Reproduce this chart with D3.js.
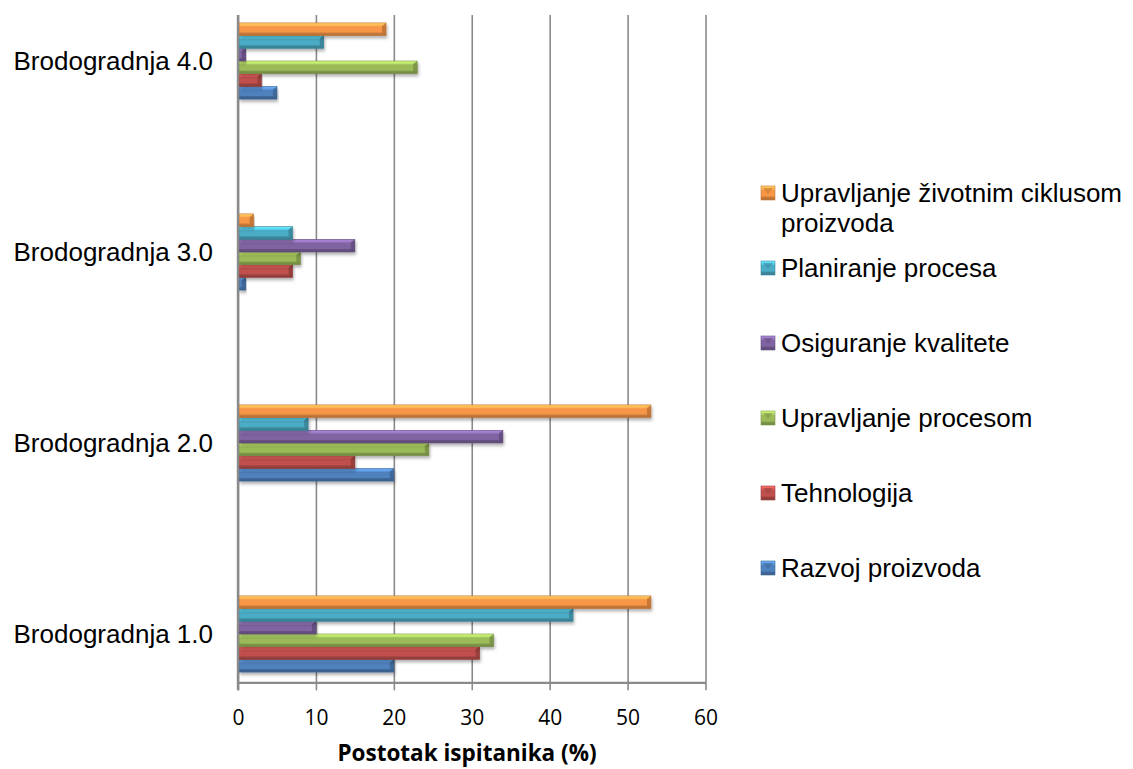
<!DOCTYPE html>
<html>
<head>
<meta charset="utf-8">
<script src="https://cdn.jsdelivr.net/npm/d3@7"></script>
<style>
  body { margin: 0; background: #fff; }
  svg { display: block; }
</style>
</head>
<body>
<div id="chart"></div>
<script>
// categories (bottom to top) and series values
const categories = ["Brodogradnja 1.0", "Brodogradnja 2.0", "Brodogradnja 3.0", "Brodogradnja 4.0"];
const seriesNames = ["Razvoj proizvoda", "Tehnologija", "Upravljanje procesom",
    "Osiguranje kvalitete", "Planiranje procesa", "Upravljanje životnim ciklusom proizvoda"];
const razvoj = [20, 20, 1, 5];
const tehnologija = [31, 15, 7, 3];
const upravljanjeProcesom = [32.8, 24.5, 8, 23];
const osiguranje = [10, 34, 15, 1];
const planiranje = [43, 9, 7, 11];
const zivotniCiklus = [53, 53, 2, 19];
const xTicks = [0, 10, 20, 30, 40, 50, 60];

const seriesValues = [razvoj, tehnologija, upravljanjeProcesom, osiguranje, planiranje, zivotniCiklus];
const colors = ["#4F81BD", "#C0504D", "#9BBB59", "#8064A2", "#4BACC6", "#F79646"];

const W = 1133, H = 769;
const plot = {left: 238, right: 705.5, top: 15, bottom: 682.3};

const svg = d3.select("#chart").append("svg")
    .attr("width", W)
    .attr("height", H);

const defs = svg.append("defs");

// bevel-like gradients
colors.forEach((c, i) => {
    let base = d3.color(c);
    let g = defs.append("linearGradient")
        .attr("id", "grad" + i)
        .attr("x1", 0).attr("y1", 0).attr("x2", 0).attr("y2", 1);
    g.append("stop").attr("offset", "0%").attr("stop-color", d3.color(c).brighter(0.9));
    g.append("stop").attr("offset", "22%").attr("stop-color", d3.color(c).brighter(0.5));
    g.append("stop").attr("offset", "30%").attr("stop-color", base);
    g.append("stop").attr("offset", "72%").attr("stop-color", base);
    g.append("stop").attr("offset", "80%").attr("stop-color", d3.color(c).darker(0.6));
    g.append("stop").attr("offset", "100%").attr("stop-color", d3.color(c).darker(0.9));
});

let shadow = defs.append("filter").attr("id", "shadow")
    .attr("x", "-5%").attr("y", "-30%").attr("width", "110%").attr("height", "180%");
shadow.append("feDropShadow")
    .attr("dx", 1).attr("dy", 2.5).attr("stdDeviation", 1.6)
    .attr("flood-color", "#000").attr("flood-opacity", 0.3);

// scales
const x = d3.scaleLinear().domain([0, 60]).range([plot.left, plot.right]);
const y = d3.scalePoint().domain(categories).range([634, 61]);
const barH = 12.7;
const inner = d3.scaleBand()
    .domain(d3.range(seriesNames.length).reverse())
    .range([-3 * barH, 3 * barH]);

// gridlines
svg.append("g")
    .attr("class", "grid")
    .attr("transform", `translate(0,${plot.bottom})`)
    .call(d3.axisBottom(x).tickValues(xTicks).tickSize(-(plot.bottom - plot.top)).tickFormat(""))
    .call(g => g.select(".domain").remove())
    .call(g => g.selectAll("line").attr("stroke", "#8a8a8a").attr("stroke-width", 1.6));

// bars
const data = [];
categories.forEach((cat, ci) => {
    seriesValues.forEach((vals, si) => {
        data.push({cat: cat, s: si, v: vals[ci]});
    });
});

let bars = svg.append("g").selectAll("g.bar")
    .data(data)
    .enter().append("g")
    .attr("class", "bar")
    .attr("filter", "url(#shadow)");

bars.append("rect")
    .attr("x", x(0) + 1)
    .attr("y", d => y(d.cat) + inner(d.s))
    .attr("width", d => Math.max(0, x(d.v) - x(0) - 1))
    .attr("height", inner.bandwidth())
    .attr("fill", d => `url(#grad${d.s})`)
    .attr("stroke", d => d3.color(colors[d.s]).darker(0.7))
    .attr("stroke-width", 0.6);

// right end bevel
bars.append("path")
    .attr("d", d => {
        let x1 = x(d.v), y0 = y(d.cat) + inner(d.s), h = inner.bandwidth();
        let b = Math.min(4, (x1 - x(0)) / 2);
        return `M${x1},${y0}L${x1 - b},${y0 + 3}L${x1 - b},${y0 + h - 3}L${x1},${y0 + h}Z`;
    })
    .attr("fill", d => d3.color(colors[d.s]).darker(0.8))
    .attr("opacity", 0.8);

// x axis
let xAxis = svg.append("g")
    .attr("transform", `translate(0,${plot.bottom})`)
    .call(d3.axisBottom(x).tickValues(xTicks).tickSizeInner(8).tickSizeOuter(0).tickPadding(20));
xAxis.select(".domain").attr("stroke", "#8a8a8a").attr("stroke-width", 2.2);
xAxis.selectAll(".tick line").attr("stroke", "#8a8a8a").attr("stroke-width", 1.6);
xAxis.selectAll("text")
    .attr("font-family", "'Open Sans', Lato, sans-serif")
    .attr("font-size", 21)
    .attr("fill", "#000");

// left axis line
svg.append("line")
    .attr("x1", x(0)).attr("x2", x(0))
    .attr("y1", plot.top).attr("y2", plot.bottom + 8)
    .attr("stroke", "#8a8a8a").attr("stroke-width", 2.4);

// category labels
svg.append("g").selectAll("text")
    .data(categories)
    .enter().append("text")
    .attr("x", 213)
    .attr("y", d => y(d))
    .attr("dy", "0.35em")
    .attr("text-anchor", "end")
    .attr("font-family", "'Liberation Sans', Arial, sans-serif")
    .attr("font-size", 26)
    .text(d => d);

// axis title
svg.append("text")
    .attr("x", 467)
    .attr("y", 761)
    .attr("text-anchor", "middle")
    .attr("font-family", "'Open Sans', Lato, sans-serif")
    .attr("font-weight", "bold")
    .attr("font-size", 22.5)
    .text("Postotak ispitanika (%)");

// legend (top: last series)
const legendY = [193, 268, 343, 418, 493, 568];
const legendOrder = d3.range(seriesNames.length).reverse();
let legend = svg.append("g").selectAll("g")
    .data(legendOrder)
    .enter().append("g")
    .attr("transform", (d, i) => `translate(761,${legendY[i]})`);

legend.append("rect")
    .attr("x", 0).attr("y", -7)
    .attr("width", 14).attr("height", 14)
    .attr("fill", d => `url(#grad${d})`)
    .attr("stroke", d => d3.color(colors[d]).darker(0.6))
    .attr("stroke-width", 0.6);
legend.append("path")
    .attr("d", "M2,-5L7,1L12,-5Z")
    .attr("fill", d => d3.color(colors[d]).darker(0.5))
    .attr("opacity", 0.7);

legend.append("text")
    .attr("x", 20)
    .attr("y", 0)
    .attr("dy", "0.35em")
    .attr("font-family", "'Liberation Sans', Arial, sans-serif")
    .attr("font-size", 26)
    .each(function(d) {
        let t = d3.select(this);
        if (d === 5) {
            t.append("tspan").attr("x", 20).text("Upravljanje životnim ciklusom");
            t.append("tspan").attr("x", 20).attr("dy", 30).text("proizvoda");
        } else {
            t.text(seriesNames[d]);
        }
    });
</script>
</body>
</html>
